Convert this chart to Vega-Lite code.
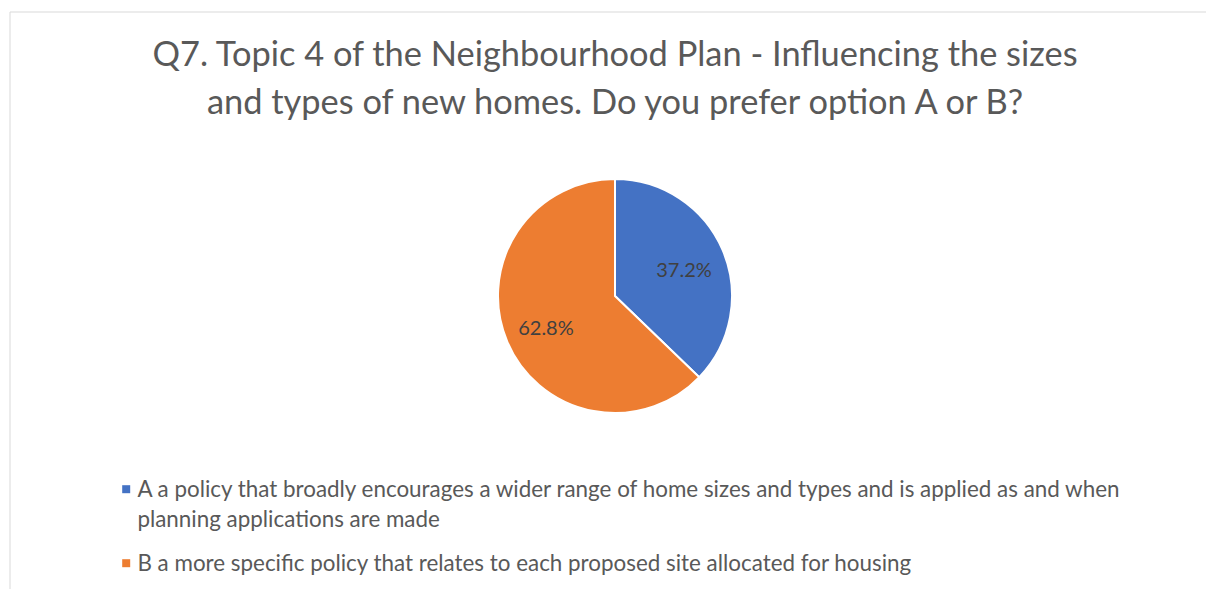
{
  "$schema": "https://vega.github.io/schema/vega-lite/v6.json",
  "width": 1210,
  "height": 586,
  "autosize": {"type": "none"},
  "padding": {"left": 10, "top": 12, "right": 0, "bottom": 0},
  "background": "white",
  "config": {
    "view": {"stroke": null},
    "font": "Lato"
  },
  "title": {
    "text": ["Q7. Topic 4 of the Neighbourhood Plan - Influencing the sizes", "and types of new homes. Do you prefer option A or B?"],
    "fontSize": 34.4,
    "fontWeight": "normal",
    "color": "#595959",
    "lineHeight": 48,
    "anchor": "middle",
    "offset": -110,
    "font": "Lato"
  },
  "layer": [
    {
      "data": {"values": [{"frame": 1}]},
      "mark": {"type": "rect", "filled": false, "color": "#d9d9d9", "strokeWidth": 1},
      "encoding": {}
    },
    {
      "data": {
        "values": [
          {"option": "A a policy that broadly encourages a wider range of home sizes and types and is applied as and when planning applications are made", "pct": 0.372},
          {"option": "B a more specific policy that relates to each proposed site allocated for housing", "pct": 0.628}
        ]
      },
      "layer": [
        {
          "mark": {"type": "arc", "outerRadius": 117, "stroke": "white", "strokeWidth": 2, "yOffset": -9},
          "encoding": {
            "theta": {"field": "pct", "type": "quantitative", "stack": true},
            "color": {
              "field": "option",
              "type": "nominal",
              "scale": {"range": ["#4472C4", "#ED7D31"]},
              "legend": {
                "title": null,
                "orient": "none",
                "legendX": 105,
                "legendY": 466,
                "direction": "vertical",
                "padding": 0,
                "symbolType": "square",
                "symbolSize": 64,
                "symbolStrokeWidth": 0,
                "labelFontSize": 22.4,
                "labelFont": "Lato",
                "labelColor": "#595959",
                "labelLimit": 1150,
                "labelBaseline": "top",
                "labelOffset": 0,
                "rowPadding": 20,
                "labelExpr": "datum.label[0] == 'A' ? ['A a policy that broadly encourages a wider range of home sizes and types and is applied as and when', 'planning applications are made'] : datum.label",
                "encoding": {"labels": {"dy": {"value": -10}, "lineHeight": {"value": 30}}}
              }
            }
          }
        },
        {
          "mark": {"type": "text", "radius": 75, "fontSize": 20, "yOffset": -5, "font": "Lato"},
          "encoding": {
            "theta": {"field": "pct", "type": "quantitative", "stack": true},
            "detail": {"field": "option", "type": "nominal"},
            "color": {"value": "#404040"},
            "text": {"field": "pct", "type": "quantitative", "format": ".1%"}
          }
        }
      ]
    }
  ]
}
